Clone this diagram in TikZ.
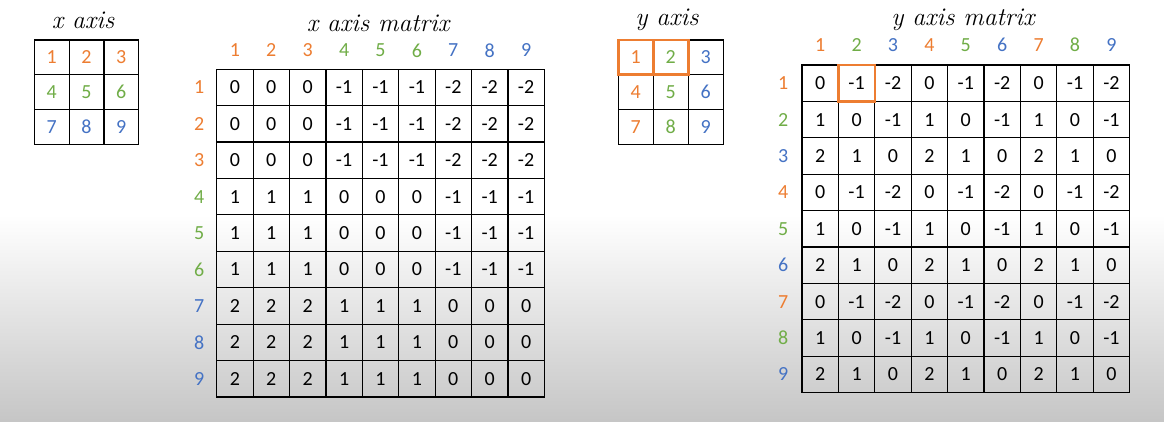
\documentclass[tikz,border=0pt]{standalone}
\usepackage{fontspec}
\newfontfamily\numfont{Carlito}
\definecolor{c0}{HTML}{ED7D31}
\definecolor{c1}{HTML}{70AD47}
\definecolor{c2}{HTML}{4472C4}
\begin{document}
\begin{tikzpicture}[x=1pt,y=-1pt,
  cell/.style={draw=black, line width=1.2pt, minimum width=36.4pt, minimum height=36.4pt, inner sep=0pt, font=\numfont\fontsize{20}{24}\selectfont},
  scell/.style={cell, minimum width=34.8pt, minimum height=34.8pt},
  hdr/.style={inner sep=0pt, font=\numfont\fontsize{20}{24}\selectfont},
  ttl/.style={inner sep=0pt, font=\fontsize{25.5}{30}\selectfont\itshape},
  hl/.style={draw=c0, line width=2.6pt, inner sep=0pt}]
\useasboundingbox (0,0) rectangle (1164,422);
\fill[white] (0,0) rectangle (1164,422);
\shade[top color=white, bottom color=gray!45] (0,215) rectangle (1164,422);
% titles
\node[ttl] (tx) at (83,20) {x axis};
\node[ttl] (txm) at (378,23) {x axis matrix};
\node[ttl] (ty) at (667,20) {y axis};
\node[ttl] (tym) at (963,20) {y axis matrix};
% small x axis grid
\foreach \r in {1,2,3}{
  \foreach \c in {1,2,3}{
    \pgfmathtruncatemacro\n{3*(\r-1)+\c}
    \pgfmathtruncatemacro\g{\r-1}
    \node[scell, text=c\g] (xa-\r-\c) at ({34.3+34.8*(\c-0.5)},{40+34.8*(\r-0.5)}) {\n};
  }}
% small y axis grid
\foreach \r in {1,2,3}{
  \foreach \c in {1,2,3}{
    \pgfmathtruncatemacro\n{3*(\r-1)+\c}
    \pgfmathtruncatemacro\g{\c-1}
    \node[scell, minimum width=35pt, minimum height=34.8pt, text=c\g] (ya-\r-\c) at ({618.3+35*(\c-0.5)},{40+34.8*(\r-0.5)}) {\n};
  }}
\node[hl, minimum width=35pt, minimum height=34.8pt] (yah1) at (ya-1-1.center) {};
\node[hl, minimum width=35pt, minimum height=34.8pt] (yah2) at (ya-1-2.center) {};
% x axis matrix
\foreach \i in {1,...,9}{
  \pgfmathtruncatemacro\g{int((\i-1)/3)}
  \node[hdr, text=c\g] (xmc-\i) at ({216.7+36.4*(\i-0.5)},50.5) {\i};
  \node[hdr, text=c\g] (xmr-\i) at (199.3,{69.3+36.4*(\i-0.5)}) {\i};
}
\foreach \r in {1,...,9}{
  \foreach \c in {1,...,9}{
    \pgfmathtruncatemacro\v{int((\r-1)/3)-int((\c-1)/3)}
    \node[cell] (xm-\r-\c) at ({216.7+36.4*(\c-0.5)},{69.3+36.4*(\r-0.5)}) {\v};
  }}
% y axis matrix
\foreach \i in {1,...,9}{
  \pgfmathtruncatemacro\g{mod(\i-1,3)}
  \node[hdr, text=c\g] (ymc-\i) at ({802+36.4*(\i-0.5)},45) {\i};
  \node[hdr, text=c\g] (ymr-\i) at (783.3,{65+36.4*(\i-0.5)}) {\i};
}
\foreach \r in {1,...,9}{
  \foreach \c in {1,...,9}{
    \pgfmathtruncatemacro\v{mod(\r-1,3)-mod(\c-1,3)}
    \node[cell] (ym-\r-\c) at ({802+36.4*(\c-0.5)},{65+36.4*(\r-0.5)}) {\v};
  }}
\node[hl, minimum width=36.4pt, minimum height=36.4pt] (ymh) at (ym-1-2.center) {};
\end{tikzpicture}
\end{document}
